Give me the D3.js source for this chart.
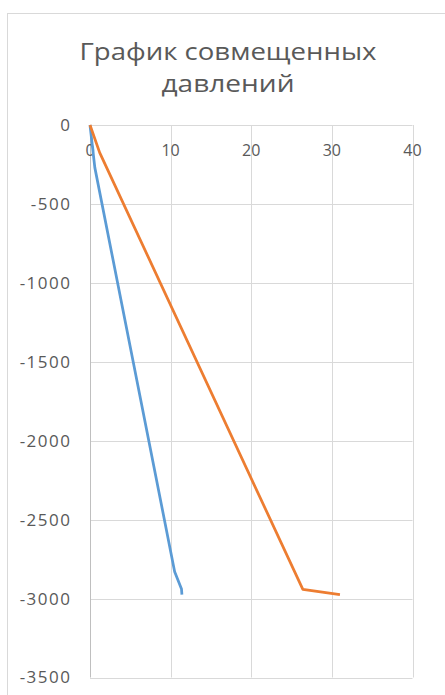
<!DOCTYPE html>
<html><head><meta charset="utf-8">
<script src="https://cdn.jsdelivr.net/npm/d3@7"></script>
<style>body{margin:0;background:#fff}svg{display:block}</style>
</head><body>
<script>
const titleLines = ["График совмещенных", "давлений"];
const titleWidths = [297, 133];
const xTicks = [0, 10, 20, 30, 40];
const yTicks = [0, -500, -1000, -1500, -2000, -2500, -3000, -3500];
const blueX = [0, 0.6, 10.5, 11.35, 11.4];
const blueY = [0, -270, -2830, -2940, -2975];
const orangeX = [0, 1.2, 26.4, 31.0];
const orangeY = [0, -175, -2942, -2975];

const W = 445, H = 695;
const svg = d3.select("body").append("svg").attr("width", W).attr("height", H);
svg.append("rect").attr("x", 7.5).attr("y", 13.5).attr("width", 470).attr("height", 720)
  .attr("fill", "#fff").attr("stroke", "#d9d9d9").attr("stroke-width", 1);

const x = d3.scaleLinear().domain([0, 40]).range([90, 412.5]);
const y = d3.scaleLinear().domain([-3500, 0]).range([677.5, 125]);

const font = "'Open Sans', 'Liberation Sans', sans-serif";
svg.selectAll("text.title").data(titleLines).join("text")
  .attr("x", 228).attr("y", (d, i) => 60 + i * 32)
  .attr("text-anchor", "middle").attr("font-family", font).attr("font-size", 24)
  .attr("textLength", (d, i) => titleWidths[i]).attr("lengthAdjust", "spacingAndGlyphs")
  .attr("fill", "#595959").text(d => d);

// gridlines
svg.append("g").selectAll("line").data(yTicks).join("line")
  .attr("x1", x(0)).attr("x2", x(40)).attr("y1", d => Math.round(y(d)) + 0.5).attr("y2", d => Math.round(y(d)) + 0.5)
  .attr("stroke", "#d9d9d9");
svg.append("g").selectAll("line").data(xTicks.slice(1)).join("line")
  .attr("y1", y(0)).attr("y2", y(-3500)).attr("x1", d => Math.round(x(d)) + 0.5).attr("x2", d => Math.round(x(d)) + 0.5)
  .attr("stroke", "#d9d9d9");
svg.append("line").attr("x1", 90.5).attr("x2", 90.5).attr("y1", y(0)).attr("y2", y(-3500)).attr("stroke", "#bfbfbf");

// y labels
svg.append("g").selectAll("text").data(yTicks).join("text")
  .attr("x", 71.5).attr("y", d => y(d)).attr("dy", "0.35em").attr("text-anchor", "end")
  .attr("letter-spacing", 1.5)
  .attr("font-family", font).attr("font-size", 17).attr("fill", "#595959").text(d => d);
// x labels
svg.append("g").selectAll("text").data(xTicks).join("text")
  .attr("x", d => x(d)).attr("y", 150).attr("dy", "0.35em").attr("text-anchor", "middle")
  .attr("font-family", font).attr("font-size", 16).attr("fill", "#595959").text(d => d);

const line = d3.line().x(d => x(d[0])).y(d => y(d[1]));
svg.append("path").datum(blueX.map((v, i) => [v, blueY[i]])).attr("d", line)
  .attr("fill", "none").attr("stroke", "#5b9bd5").attr("stroke-width", 2.75).attr("stroke-linejoin", "round");
svg.append("path").datum(orangeX.map((v, i) => [v, orangeY[i]])).attr("d", line)
  .attr("fill", "none").attr("stroke", "#ed7d31").attr("stroke-width", 2.75).attr("stroke-linejoin", "round");
</script>
</body></html>
